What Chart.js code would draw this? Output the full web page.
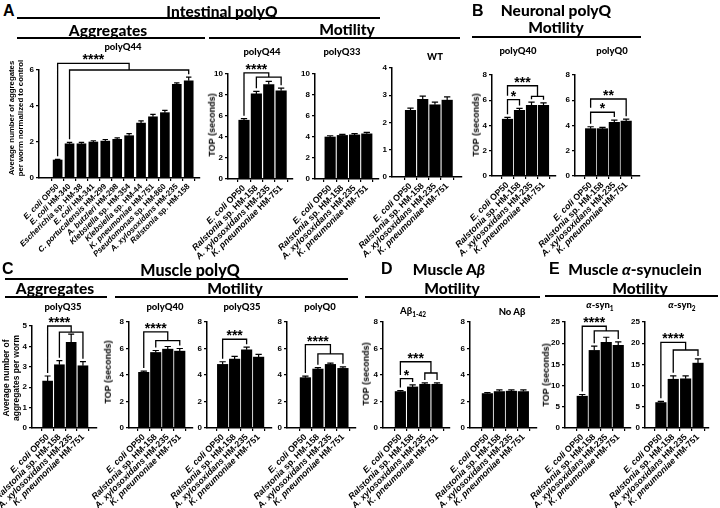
<!DOCTYPE html>
<html><head><meta charset="utf-8">
<script src="https://cdn.jsdelivr.net/npm/chart.js@4.4.0/dist/chart.umd.min.js"></script>
<style>
body{margin:0;background:#fff;}
#fig{position:relative;width:720px;height:508px;overflow:hidden;background:#fff;}
.t{position:absolute;white-space:nowrap;font-weight:bold;color:#000;line-height:1;}
.ln{position:absolute;height:0;border-top:2px solid #000;}
.yt{position:absolute;white-space:nowrap;font-weight:bold;color:#000;text-align:center;line-height:1.15;font-family:'Liberation Sans',Arial,sans-serif;transform:translate(-50%,-50%) rotate(-90deg);}
canvas{position:absolute;}
</style></head><body><div id="fig"></div>
<script>
// ---------------- DATA ----------------
const strains12 = ['E. coli OP50','E. coli HM-340','Escherichia sp. HM-38','E. coli HM-341','C. portucalensis HM-299','A. butzleri HM-298','Klebsiella sp. HM-354','Klebsiella sp. HM-44','K. pneumoniae HM-751','Pseudomonas sp. HM-860','A. xylosoxidans HM-235','Ralstonia sp. HM-158'];
const strains4 = ['E. coli OP50','Ralstonia sp. HM-158','A. xylosoxidans HM-235','K. pneumoniae HM-751'];

const intAggQ44 = [1.0,1.9,1.9,2.0,2.05,2.15,2.35,3.05,3.4,3.63,5.2,5.4];
const intAggQ44Err = [0.04,0.08,0.08,0.07,0.09,0.08,0.12,0.12,0.13,0.13,0.08,0.2];
const intMotQ44 = [5.6,8.1,9.0,8.4];
const intMotQ44Err = [0.15,0.25,0.3,0.25];
const intMotQ33 = [4.0,4.15,4.2,4.3];
const intMotQ33Err = [0.12,0.1,0.12,0.14];
const intMotWT = [2.45,2.85,2.65,2.82];
const intMotWTErr = [0.08,0.12,0.1,0.12];
const neuQ40 = [4.5,5.2,5.6,5.6];
const neuQ40Err = [0.15,0.15,0.25,0.2];
const neuQ0 = [3.75,3.75,4.25,4.35];
const neuQ0Err = [0.15,0.1,0.18,0.15];
const musAggQ35 = [2.3,3.1,4.2,3.05];
const musAggQ35Err = [0.25,0.2,0.4,0.2];
const musQ40 = [4.2,5.7,5.95,5.8];
const musQ40Err = [0.1,0.15,0.2,0.2];
const musQ35 = [4.8,5.2,5.9,5.35];
const musQ35Err = [0.2,0.2,0.2,0.2];
const musQ0 = [3.8,4.45,4.8,4.5];
const musQ0Err = [0.12,0.1,0.1,0.12];
const abeta = [2.75,3.1,3.3,3.3];
const abetaErr = [0.08,0.15,0.1,0.1];
const noAbeta = [2.6,2.75,2.78,2.75];
const noAbetaErr = [0.08,0.12,0.1,0.12];
const syn1 = [7.5,18.3,20.2,19.5];
const syn1Err = [0.4,1.0,1.2,0.8];
const syn2 = [6.0,11.5,11.6,15.3];
const syn2Err = [0.3,0.8,0.7,1.0];

// y-axis ranges [max, step]
const yAgg6=[6,2], yMot10=[10,2], yWT=[4,1], yMot8=[8,2], yAgg5=[5,1], ySyn=[25,5];

// ---------------- LAYOUT ----------------
const LM=100, RM=6, TM=44, BM=110;
const FONT="'Liberation Sans', Arial, sans-serif";
const fig=document.getElementById('fig');

const errPlugin={id:'errbars',afterDatasetsDraw(chart){
  const ds=chart.data.datasets[0], meta=chart.getDatasetMeta(0), ys=chart.scales.y, ctx=chart.ctx;
  ctx.save();ctx.strokeStyle='#000';ctx.lineWidth=1.2;
  meta.data.forEach((bar,i)=>{
    const v=ds.data[i].y, e=ds.err[i];
    const yb=ys.getPixelForValue(v), yt=ys.getPixelForValue(v+e), cap=bar.width*0.3;
    ctx.beginPath();ctx.moveTo(bar.x,yb);ctx.lineTo(bar.x,yt);ctx.moveTo(bar.x-cap,yt);ctx.lineTo(bar.x+cap,yt);ctx.stroke();
  });
  ctx.restore();
}};
const brPlugin={id:'brackets',afterDraw(chart,args,opts){
  const list=opts.items||[]; if(!list.length)return;
  const ds=chart.data.datasets[0], xs=chart.scales.x, ys=chart.scales.y, ctx=chart.ctx;
  const X=i=>xs.getPixelForValue(i), Y=v=>ys.getPixelForValue(v);
  const legEnd=(i,ov)=>ov!==undefined?Y(ov):Y(ds.data[i].y+ds.err[i])-3;
  ctx.save();ctx.strokeStyle='#000';ctx.lineWidth=1.3;ctx.fillStyle='#000';
  ctx.font='bold 14px '+FONT;ctx.textAlign='center';ctx.textBaseline='alphabetic';
  list.forEach(b=>{
    ctx.beginPath();
    let lx;
    if(b.g){
      const xa=X(b.a),x1=X(b.g[0]),x2=X(b.g[1]),xm=(x1+x2)/2,y1=Y(b.y1),y2=Y(b.y2);
      ctx.moveTo(xa,legEnd(b.a,b.la));ctx.lineTo(xa,y1);ctx.lineTo(xm,y1);ctx.lineTo(xm,y2);
      ctx.moveTo(x1,legEnd(b.g[0],b.l1));ctx.lineTo(x1,y2);ctx.lineTo(x2,y2);ctx.lineTo(x2,legEnd(b.g[1],b.l2));
      lx=(xa+xm)/2; ctx.stroke(); ctx.fillText(b.t,lx,y1+1);
    }else{
      const xa=X(b.a),xb=X(b.b),y=Y(b.y);
      ctx.moveTo(xa,legEnd(b.a,b.la));ctx.lineTo(xa,y);ctx.lineTo(xb,y);ctx.lineTo(xb,legEnd(b.b,b.lb));
      lx=(xa+xb)/2; ctx.stroke(); ctx.fillText(b.t,lx,y+1);
    }
  });
  ctx.restore();
}};
// redraw the category labels at Chart.js' own label positions, with the species name in italics
const labelPlugin={id:'mixlabels',afterDraw(chart){
  const xs=chart.scales.x, ctx=chart.ctx, size=chart.options.scales.x.ticks.font.size;
  const items=xs.getLabelItems();
  const fi='italic bold '+size+'px '+FONT, fb='bold '+size+'px '+FONT;
  items.forEach(it=>{
    const o=it.options, lab=it.label; if(!lab||typeof lab!=='string')return;
    const words=lab.split(' ');
    let k=words.findIndex(w=>w==='sp.'||/^HM-|^OP/.test(w)); if(k<0)k=words.length;
    const a=words.slice(0,k).join(' ')+(k<words.length?' ':''), b=words.slice(k).join(' ');
    ctx.save();ctx.fillStyle='#000';
    ctx.translate(o.translation[0],o.translation[1]);ctx.rotate(o.rotation);
    ctx.textBaseline=o.textBaseline;ctx.textAlign='left';
    ctx.font=fi;const wa=ctx.measureText(a).width;ctx.font=fb;const wb=ctx.measureText(b).width;
    const x0=o.textAlign==='right'?-(wa+wb):(o.textAlign==='center'?-(wa+wb)/2:0);
    ctx.font=fi;ctx.fillText(a,x0,it.textOffset);ctx.font=fb;ctx.fillText(b,x0+wa,it.textOffset);
    ctx.restore();
  });
}};

function build(labels,values,errs,yr,g,brackets){
  const n=labels.length;
  const pw=Math.round(g.ex-g.ax), ph=Math.round(g.y0-g.yTop);
  const W=pw+LM+RM, H=ph+TM+BM;
  const cv=document.createElement('canvas');
  cv.width=W;cv.height=H;cv.style.width=W+'px';cv.style.height=H+'px';
  cv.style.left=(Math.round(g.ax)-LM)+'px';cv.style.top=(Math.round(g.yTop)-TM)+'px';
  fig.appendChild(cv);
  const xmin=-(g.c0-g.ax)/g.dc, xmax=(n-1)+(g.ex-(g.c0+(n-1)*g.dc))/g.dc;
  const tickFont={family:FONT,weight:'bold',size:8};
  new Chart(cv,{type:'bar',
    data:{datasets:[{data:values.map((v,i)=>({x:i,y:v})),err:errs,backgroundColor:'#000',borderWidth:0,barThickness:g.bw}]},
    options:{responsive:false,animation:false,devicePixelRatio:1,
      layout:{padding:{top:TM,right:RM,left:0,bottom:0}},
      plugins:{legend:{display:false},tooltip:{enabled:false},brackets:{items:brackets}},
      scales:{
        x:{type:'linear',min:xmin,max:xmax,
          afterBuildTicks:s=>{s.ticks=labels.map((_,i)=>({value:i}));},
          afterFit:s=>{s.height=BM;s.paddingLeft=0;s.paddingRight=0;},
          ticks:{callback:v=>labels[v],minRotation:45,maxRotation:45,autoSkip:false,font:{family:FONT,weight:'bold',size:g.lf},color:'rgba(0,0,0,0)',padding:1},
          grid:{drawOnChartArea:false,drawTicks:true,tickLength:3,color:'#000',lineWidth:1.2},
          border:{display:true,color:'#000',width:1.5}},
        y:{min:0,max:yr[0],
          afterFit:s=>{s.width=LM;s.paddingTop=0;s.paddingBottom=0;},
          ticks:{stepSize:yr[1],font:tickFont,color:'#000',padding:2},
          grid:{drawOnChartArea:false,drawTicks:true,tickLength:3,color:'#000',lineWidth:1.2},
          border:{display:true,color:'#000',width:1.5}}
      }},
    plugins:[errPlugin,brPlugin,labelPlugin]});
}

// Panel A
build(strains12,intAggQ44,intAggQ44Err,yAgg6,{ax:39,ex:200,y0:178,yTop:70,c0:52,dc:13,bw:9,lf:8},
  [{a:0,g:[1,11],y1:6.37,y2:6.0,t:'****'}]);
build(strains4,intMotQ44,intMotQ44Err,yMot10,{ax:228,ex:293,y0:179,yTop:74,c0:238.5,dc:16.5,bw:10.5,lf:8.8},
  [{a:0,g:[1,3],y1:10.1,y2:9.7,t:'****'}]);
build(strains4,intMotQ33,intMotQ33Err,yMot10,{ax:315,ex:379,y0:179,yTop:74,c0:324.5,dc:16.3,bw:10.5,lf:8.8},[]);
build(strains4,intMotWT,intMotWTErr,yWT,{ax:392,ex:462,y0:177,yTop:68,c0:405,dc:16.3,bw:10.5,lf:8.8},[]);
// Panel B
build(strains4,neuQ40,neuQ40Err,yMot8,{ax:492,ex:556,y0:176,yTop:75,c0:502,dc:16,bw:10.5,lf:8.8},
  [{a:0,b:1,y:6.05,t:'*'},{a:0,g:[2,3],y1:7.15,y2:6.3,la:6.35,t:'***'}]);
build(strains4,neuQ0,neuQ0Err,yMot8,{ax:575,ex:640,y0:176,yTop:75,c0:585,dc:15.8,bw:10.5,lf:8.8},
  [{a:0,b:2,y:5.05,t:'*'},{a:0,b:3,y:6.1,la:5.4,t:'**'}]);
// Panel C
build(strains4,musAggQ35,musAggQ35Err,yAgg5,{ax:32,ex:97,y0:428,yTop:326,c0:42,dc:15.7,bw:10,lf:8.8},
  [{a:0,g:[1,3],y1:5.0,y2:4.7,t:'****'}]);
build(strains4,musQ40,musQ40Err,yMot8,{ax:129,ex:193,y0:428,yTop:322,c0:138,dc:16,bw:10.5,lf:8.8},
  [{a:0,g:[1,3],y1:7.25,y2:6.6,t:'****'}]);
build(strains4,musQ35,musQ35Err,yMot8,{ax:207,ex:272,y0:428,yTop:322,c0:217,dc:16,bw:10.5,lf:8.8},
  [{a:0,b:2,y:6.7,t:'***'}]);
build(strains4,musQ0,musQ0Err,yMot8,{ax:287,ex:356,y0:428,yTop:322,c0:300,dc:16.7,bw:10.5,lf:8.8},
  [{a:0,g:[1,3],y1:6.3,y2:5.6,t:'****'}]);
// Panel D
build(strains4,abeta,abetaErr,yMot8,{ax:383,ex:450,y0:428,yTop:322,c0:395,dc:16.3,bw:10.5,lf:8.8},
  [{a:0,b:1,y:3.73,t:'*'},{a:0,g:[2,3],y1:5.0,y2:4.15,la:4.0,t:'***'}]);
build(strains4,noAbeta,noAbetaErr,yMot8,{ax:470,ex:537,y0:428,yTop:322,c0:482,dc:16,bw:10.5,lf:8.8},[]);
// Panel E
build(strains4,syn1,syn1Err,ySyn,{ax:565,ex:631,y0:428,yTop:322,c0:577,dc:16,bw:10.5,lf:8.8},
  [{a:0,g:[1,3],y1:24.0,y2:22.9,t:'****'}]);
build(strains4,syn2,syn2Err,ySyn,{ax:645,ex:709,y0:428,yTop:322,c0:655.5,dc:16.5,bw:10.5,lf:8.8},
  [{a:0,g:[1,3],y1:20.2,y2:18.4,t:'****'}]);

// ---------------- TEXT ----------------
const HF="Lato,'Open Sans',sans-serif";
function T(html,cx,top,size,fam,align){
  const d=document.createElement('div');d.className='t';d.innerHTML=html;
  d.style.fontSize=size+'px';d.style.fontFamily=fam||FONT;d.style.top=top+'px';
  if(fam===HF)d.style.fontWeight='900';
  if(align==='left'){d.style.left=cx+'px';}else{d.style.left=cx+'px';d.style.transform='translateX(-50%)';}
  fig.appendChild(d);
}
function L(x1,x2,y){const d=document.createElement('div');d.className='ln';d.style.left=x1+'px';d.style.width=(x2-x1)+'px';d.style.top=(y-1)+'px';fig.appendChild(d);}
function YT(html,cx,cy,size){const d=document.createElement('div');d.className='yt';d.innerHTML=html;d.style.left=cx+'px';d.style.top=cy+'px';d.style.fontSize=size+'px';fig.appendChild(d);}
// letters
T('A',3,3,16,FONT,'left');T('B',472,3,16,FONT,'left');T('C',2,261,16,FONT,'left');T('D',381,261,16,FONT,'left');T('E',549,261,16,FONT,'left');
// headers top
T('Intestinal polyQ',222,4,15.5,HF);L(17,380,18);
T('Aggregates',108,23,15.5,HF);L(17,205,37.5);
T('Motility',347,22,15.5,HF);L(209,460,37.5);
T('Neuronal polyQ',556,3,15.5,HF);
T('Motility',556,20,15.5,HF);L(472,641,36.5);
// headers bottom
T('Muscle polyQ',190,262,16,HF);L(5,348,278.5);
T('Aggregates',55,281,15.5,HF);L(5,107,297);
T('Motility',235,281,15.5,HF);L(115,358,297);
T('Muscle A<i>β</i>',449,262,15.5,HF);
T('Motility',452,281,15.5,HF);L(365,540,297);
T('Muscle <i>α</i>-synuclein',635,262,15.5,HF);
T('Motility',640,281,15.5,HF);L(545,718,296);
// subtitles
const SF=9.5;
T('polyQ44',123,42,SF,HF);T('polyQ44',262,47,SF,HF);T('polyQ33',342,47,SF,HF);T('WT',435,52,SF,HF);
T('polyQ40',518,46,SF,HF);T('polyQ0',612,46,SF,HF);
T('polyQ35',63,302,SF,HF);T('polyQ40',165,302,SF,HF);T('polyQ35',242,302,SF,HF);T('polyQ0',320,302,SF,HF);
T('Aβ<sub style="font-size:6.5px">1-42</sub>',413,306,SF,HF);T('No Aβ',512,307,SF,HF);
T('<i>α</i>-syn<sub style="font-size:6.5px">1</sub>',600,300,SF,HF);T('<i>α</i>-syn<sub style="font-size:6.5px">2</sub>',682,300,SF,HF);
// y titles
YT('Average number of aggregates<br>per worm normalized to control',17,118,7.8);
YT('TOP (seconds)',212,125,9);
YT('TOP (seconds)',476,125,9);
YT('Average number of<br>aggregates per worm',12,378,8.5);
YT('TOP (seconds)',108,372,9);
YT('TOP (seconds)',366,374,9);
YT('TOP (seconds)',546,375,9);
</script></body></html>
